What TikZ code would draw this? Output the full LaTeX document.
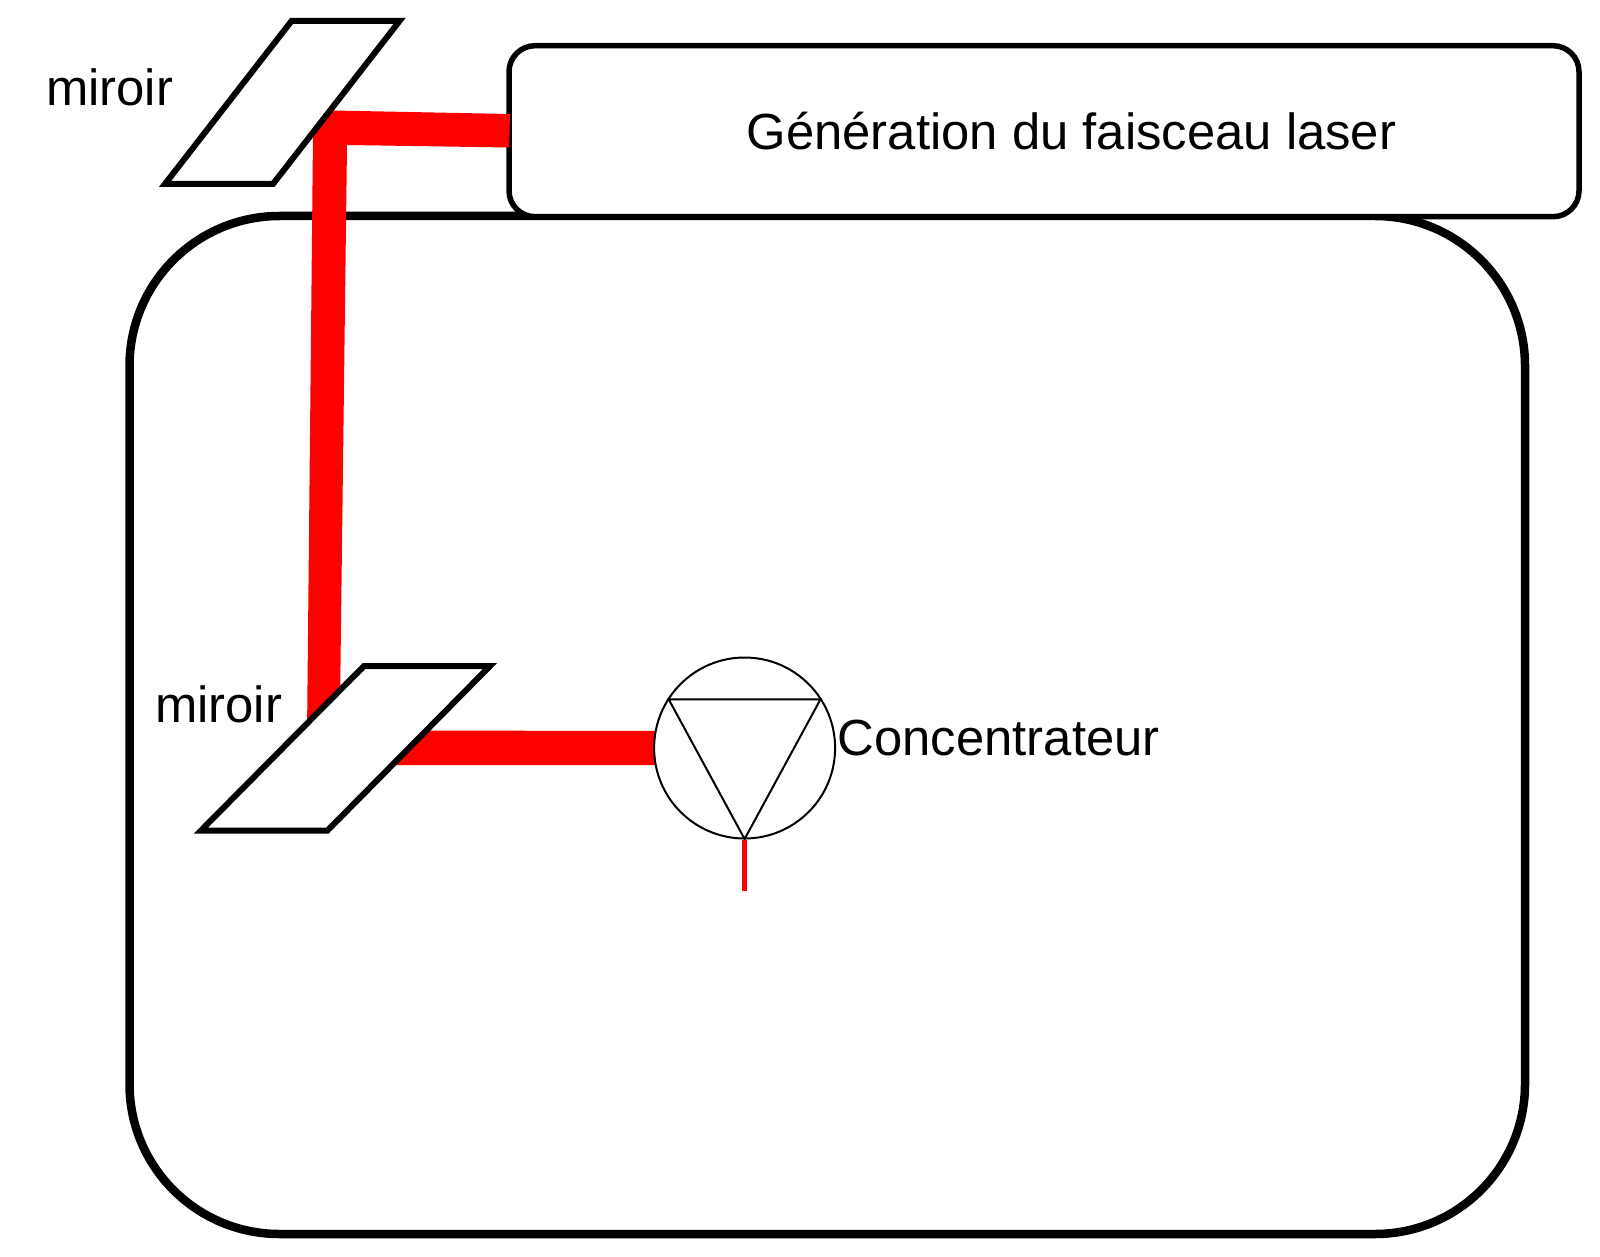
\documentclass[tikz,border=0pt]{standalone}
\usepackage{fontspec}
\setmainfont{Liberation Sans}
\tikzset{
  mirrorshape/.style={draw=black,fill=white,line width=6pt,miter limit=20},
  beam/.style={fill=red,draw=none},
  label/.style={font=\fontsize{50.8}{50.8}\selectfont,inner sep=0pt,text=black},
  optic/.style={draw=black,line width=2pt},
}
\begin{document}
\begin{tikzpicture}[x=1pt,y=-1pt]
\useasboundingbox (0,0) rectangle (1600,1257);
% enclosure
\draw[line width=8.5pt,fill=white,rounded corners=150pt] (129.5,216) rectangle (1525,1234);
% laser source
\node[draw=black,fill=white,line width=5.5pt,rounded corners=26pt,minimum width=1070pt,minimum height=171pt,inner sep=0pt,outer sep=0pt,anchor=north west] (source) at (509,45.7) {};
\node[label,anchor=base west] (sourcetext) at (746.5,150) {Génération du faisceau laser};
% beams
\fill[beam] (333,110.5) -- (510,114) -- (509,147.5) -- (347,145) -- (340,705) -- (307,735) -- (313,135) -- cycle;
\fill[beam] (395,730.5) -- (660,731) -- (660,765) -- (395,765) -- cycle;
% mirrors
\draw[mirrorshape] (291.5,21) -- (399.5,21) -- (273,184) -- (165,184) -- cycle;
\draw[mirrorshape] (364,666) -- (490,666) -- (327.5,830.5) -- (201,830.5) -- cycle;
% concentrator
\node[circle,optic,fill=white,minimum size=181pt,inner sep=0pt] (conc) at (744.6,748) {};
\draw[optic] (668.7,699.3) -- (820.5,699.3) -- (744.6,839) -- cycle;
\coordinate (stubend) at (744.6,891);
\draw[red,line width=5pt] (conc.south) -- (stubend);
% labels
\node[label,anchor=base west] (m1) at (46,106) {miroir};
\node[label,anchor=base west] (m2) at (155,722) {miroir};
\node[label,anchor=base west] (ct) at (837.5,755) {Concentrateur};
\end{tikzpicture}
\end{document}
